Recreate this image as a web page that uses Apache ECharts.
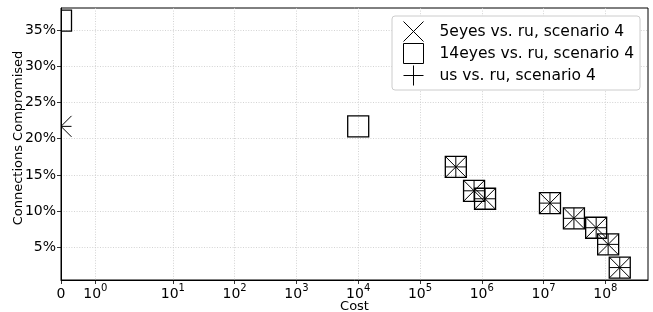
<!DOCTYPE html>
<html>
<head>
<meta charset="utf-8">
<script src="https://cdn.jsdelivr.net/npm/echarts@6/dist/echarts.min.js"></script>
<style>
  html, body { margin: 0; padding: 0; background: #fff; }
  #chart { width: 653px; height: 312px; }
</style>
</head>
<body>
<div id="chart"></div>
<script>
// values (cost in raw units, share in %)
const cost5eyes = [0, 3.8e5, 7.5e5, 1.13e6, 1.27e7, 3.1e7, 7.1e7, 1.11e8, 1.71e8]
const pct5eyes = [21.7, 16.1, 12.8, 11.7, 11.1, 9.0, 7.7, 5.4, 2.2]

const cost14eyes = [0, 1.0e4, 3.8e5, 7.5e5, 1.13e6, 1.27e7, 3.1e7, 7.1e7, 1.11e8, 1.71e8]
const pct14eyes = [36.3, 21.7, 16.1, 12.8, 11.7, 11.1, 9.0, 7.7, 5.4, 2.2]

const costUs = [0, 3.8e5, 7.5e5, 1.13e6, 1.27e7, 3.1e7, 7.1e7, 1.11e8, 1.71e8]
const pctUs = [21.7, 16.1, 12.8, 11.7, 11.1, 9.0, 7.7, 5.4, 2.2]

const seriesNames = ["5eyes vs. ru, scenario 4", "14eyes vs. ru, scenario 4", "us vs. ru, scenario 4"]

const xTicks = [0, 1, 10, 100, 1e3, 1e4, 1e5, 1e6, 1e7, 1e8]
const xTickExp = [null, 0, 1, 2, 3, 4, 5, 6, 7, 8]
const xMaxCost = 4.9e8

const yTicks = [5, 10, 15, 20, 25, 30, 35]
const yMin = 0.48
const yMax = 38.05

// symlog like matplotlib (linthresh 2, linscale 1)
const LINTHRESH = 2
const LINSCALE = 1 / (1 - 1 / 10)
function symlog(v) {
  return v <= LINTHRESH ? (v / LINTHRESH) * LINSCALE : LINSCALE + Math.log10(v / LINTHRESH)
}

const FONT = "DejaVu Sans"
const MS = 21

function pairs(costs, pcts) {
  return costs.map((c, i) => [symlog(c), pcts[i]])
}

function marker(kind) {
  return function (params, api) {
    const p = api.coord([api.value(0), api.value(1)])
    const h = MS / 2
    const st = { stroke: "#000", fill: "none", lineWidth: 1 }
    if (kind === "square") {
      return {
        type: "rect",
        shape: { x: p[0] - h, y: p[1] - h, width: MS, height: MS },
        style: { stroke: "#000", fill: "none", lineWidth: 1.3 }
      }
    }
    if (kind === "x") {
      return {
        type: "group",
        children: [
          { type: "line", shape: { x1: p[0] - h, y1: p[1] - h, x2: p[0] + h, y2: p[1] + h }, style: st },
          { type: "line", shape: { x1: p[0] - h, y1: p[1] + h, x2: p[0] + h, y2: p[1] - h }, style: st }
        ]
      }
    }
    return {
      type: "group",
      children: [
        { type: "line", shape: { x1: p[0] - h, y1: p[1], x2: p[0] + h, y2: p[1] }, style: st },
        { type: "line", shape: { x1: p[0], y1: p[1] - h, x2: p[0], y2: p[1] + h }, style: st }
      ]
    }
  }
}

const xTickPos = xTicks.map(symlog)
function xLabel(v) {
  const i = xTickPos.findIndex((t) => Math.abs(t - v) < 1e-6)
  if (i < 0) return ""
  if (xTickExp[i] === null) return "{b|0}"
  return "{b|10}{s|" + xTickExp[i] + "}"
}

const gridLine = { show: true, lineStyle: { color: "#c8c8c8", width: 0.8, type: [1, 1.6] } }
const legendStyle = { color: "none", borderColor: "#000", borderWidth: 1 }

const chart = echarts.init(document.getElementById("chart"), null, { renderer: "canvas" })

const options = {
  animation: false,
  textStyle: { fontFamily: FONT },
  grid: {
    left: 61,
    right: 5,
    top: 8,
    bottom: 32,
    containLabel: false,
    outerBoundsMode: "none",
    show: true,
    borderColor: "#000",
    borderWidth: 1,
    backgroundColor: "transparent"
  },
  legend: {
    orient: "vertical",
    left: 392,
    top: 16,
    padding: [3, 6, 2, 9],
    itemWidth: 30,
    itemHeight: 20,
    itemGap: -3,
    backgroundColor: "#fff",
    borderColor: "#cccccc",
    borderWidth: 1,
    borderRadius: 3,
    selectedMode: false,
    textStyle: { fontFamily: FONT, fontSize: 15.5, color: "#000", padding: [0, 0, 0, 6] },
    data: [
      { name: seriesNames[0], icon: "path://M0,0L10,10M10,0L0,10", itemStyle: legendStyle },
      { name: seriesNames[1], icon: "path://M0,0L10,0L10,10L0,10Z", itemStyle: legendStyle },
      { name: seriesNames[2], icon: "path://M5,0L5,10M0,5L10,5", itemStyle: legendStyle }
    ]
  },
  xAxis: {
    type: "value",
    min: 0,
    max: symlog(xMaxCost),
    name: "Cost",
    nameLocation: "middle",
    nameGap: 20,
    nameMoveOverlap: false,
    nameTextStyle: { fontFamily: FONT, fontSize: 13, color: "#000" },
    axisLine: { show: true, lineStyle: { color: "#000", width: 1 } },
    axisTick: { show: true, length: 4, lineStyle: { color: "#000", width: 0.8 }, customValues: xTickPos },
    axisLabel: {
      customValues: xTickPos,
      margin: 3,
      formatter: xLabel,
      rich: {
        b: { fontFamily: FONT, fontSize: 14, color: "#000", lineHeight: 18, verticalAlign: "bottom" },
        s: { fontFamily: FONT, fontSize: 10, color: "#000", verticalAlign: "top" }
      }
    },
    splitLine: gridLine
  },
  yAxis: {
    type: "value",
    min: yMin,
    max: yMax,
    name: "Connections Compromised",
    nameLocation: "middle",
    nameRotate: 90,
    nameGap: 36,
    nameMoveOverlap: false,
    nameTextStyle: { fontFamily: FONT, fontSize: 13, color: "#000", padding: [0, 0, 0, 12] },
    axisLine: { show: true, lineStyle: { color: "#000", width: 1 } },
    axisTick: { show: true, length: 4, lineStyle: { color: "#000", width: 0.8 }, customValues: yTicks },
    axisLabel: {
      customValues: yTicks,
      margin: 5,
      fontFamily: FONT,
      fontSize: 14,
      color: "#000",
      formatter: (v) => v + "%"
    },
    splitLine: gridLine
  },
  series: [
    {
      name: seriesNames[0],
      type: "custom",
      clip: true,
      renderItem: marker("x"),
      encode: { x: 0, y: 1 },
      data: pairs(cost5eyes, pct5eyes)
    },
    {
      name: seriesNames[1],
      type: "custom",
      clip: true,
      renderItem: marker("square"),
      encode: { x: 0, y: 1 },
      data: pairs(cost14eyes, pct14eyes)
    },
    {
      name: seriesNames[2],
      type: "custom",
      clip: true,
      renderItem: marker("plus"),
      encode: { x: 0, y: 1 },
      data: pairs(costUs, pctUs)
    }
  ]
}

chart.setOption(options)
</script>
</body>
</html>
